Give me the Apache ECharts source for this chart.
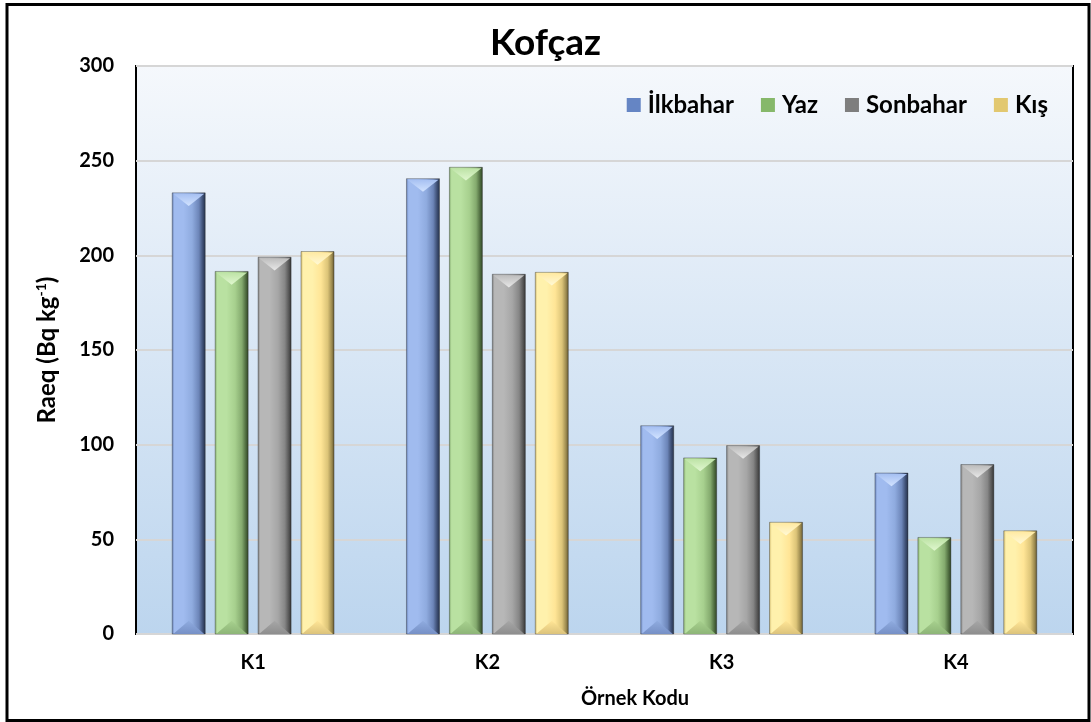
<!DOCTYPE html>
<html>
<head>
<meta charset="utf-8">
<script src="https://cdn.jsdelivr.net/npm/echarts@6/dist/echarts.min.js"></script>
<style>
  html, body { margin: 0; padding: 0; background: #ffffff; }
  #chart { width: 1091px; height: 722px; }
</style>
</head>
<body>
<div id="chart"></div>
<script>
// Raeq values per sampling point (K1..K4) for each season
const categories = ['K1', 'K2', 'K3', 'K4'];
const seasons = ['İlkbahar', 'Yaz', 'Sonbahar', 'Kış'];
const ilkbahar = [233, 240.5, 110, 85];
const yaz = [191.5, 246.5, 93, 51];
const sonbahar = [199, 190, 99.5, 89.5];
const kis = [202, 191, 59, 54.5];
const yTicks = [0, 50, 100, 150, 200, 250, 300];

const seriesValues = [ilkbahar, yaz, sonbahar, kis];

// Shading for the bevelled bars: body gradient stops plus top/bottom facets
const palettes = [
  { legend: '#6585c4', edge: '#5f78ad', light: '#a0bbef', mid: '#8fabdf', shade: '#6c85b8', dark: '#3b4c70', darkest: '#243046', topBase: '#a6c0f2', topLight: '#d2e3ff', bottom: '#7690c6' },
  { legend: '#86b86a', edge: '#7fa56a', light: '#b9e1a1', mid: '#a7d08e', shade: '#84aa6e', dark: '#4d6a3e', darkest: '#2d3f24', topBase: '#bde3a6', topLight: '#e0f7cf', bottom: '#8db577' },
  { legend: '#7e7e7e', edge: '#7a7a7a', light: '#b7b7b7', mid: '#a6a6a6', shade: '#868686', dark: '#555555', darkest: '#303030', topBase: '#bdbdbd', topLight: '#e8e8e8', bottom: '#8e8e8e' },
  { legend: '#e2c870', edge: '#cdb66b', light: '#fff1ac', mid: '#ffe596', shade: '#dcc478', dark: '#9c8a4f', darkest: '#5c512e', topBase: '#ffeaa3', topLight: '#fff9d6', bottom: '#dcc37b' }
];

function bodyGradient(p) {
  return new echarts.graphic.LinearGradient(0, 0, 1, 0, [
    { offset: 0, color: p.edge },
    { offset: 0.08, color: p.light },
    { offset: 0.35, color: p.light },
    { offset: 0.6, color: p.mid },
    { offset: 0.8, color: p.shade },
    { offset: 0.92, color: p.dark },
    { offset: 1, color: p.darkest }
  ]);
}

function renderBevelBar(params, api) {
  const s = params.seriesIndex;
  const p = palettes[s];
  const cat = api.value(0);
  const val = api.value(1);
  const base = api.coord([cat, 0]);
  const top = api.coord([cat, val]);
  const catW = api.size([1, 0])[0];
  const barW = catW * 0.141;
  const gap = barW * 0.30;
  const xc = base[0] + (s - 1.5) * (barW + gap);
  const x0 = xc - barW / 2;
  const x1 = xc + barW / 2;
  const y0 = top[1];
  const y1 = base[1];
  const d = Math.min(barW * 0.4, (y1 - y0) / 2);
  return {
    type: 'group',
    children: [
      {
        type: 'rect',
        shape: { x: x0, y: y0, width: barW, height: y1 - y0 },
        style: { fill: bodyGradient(p), stroke: 'rgba(30,30,30,0.35)', lineWidth: 1 }
      },
      {
        type: 'polygon',
        shape: { points: [[x0 + 1, y0 + 1], [x1 - 1, y0 + 1], [xc, y0 + d]] },
        style: {
          fill: new echarts.graphic.LinearGradient(0, 0, 0, 1, [
            { offset: 0, color: p.topBase },
            { offset: 1, color: p.topLight }
          ])
        }
      },
      {
        type: 'polygon',
        shape: { points: [[x0 + 1, y1], [x1 - 1, y1], [xc, y1 - d]] },
        style: {
          fill: new echarts.graphic.LinearGradient(0, 0, 0, 1, [
            { offset: 0, color: p.mid },
            { offset: 1, color: p.bottom }
          ])
        }
      }
    ]
  };
}

const chart = echarts.init(document.getElementById('chart'), null, { renderer: 'canvas' });

const fontFamily = 'Lato, "Open Sans", sans-serif';

const option = {
  backgroundColor: '#ffffff',
  animation: false,
  title: {
    text: 'Kofçaz',
    left: 'center',
    top: 20,
    textStyle: { fontFamily, fontWeight: 'bold', fontSize: 37, color: '#000' }
  },
  legend: {
    data: seasons,
    right: 38,
    top: 88,
    icon: 'rect',
    itemWidth: 14,
    itemHeight: 14,
    itemGap: 27,
    textStyle: { fontFamily, fontWeight: 'bold', fontSize: 24, color: '#000', padding: [0, 0, 0, 2] }
  },
  grid: {
    left: 136,
    right: 18,
    top: 66,
    bottom: 88,
    show: true,
    borderColor: '#000',
    borderWidth: 2,
    backgroundColor: new echarts.graphic.LinearGradient(0, 0, 0, 1, [
      { offset: 0, color: '#f5f8fc' },
      { offset: 1, color: '#bcd5ee' }
    ])
  },
  xAxis: {
    type: 'category',
    data: categories,
    axisLine: { show: false },
    axisTick: { show: false },
    axisLabel: { fontFamily, fontWeight: 'bold', fontSize: 20, color: '#000', margin: 19 }
  },
  yAxis: {
    type: 'value',
    min: yTicks[0],
    max: yTicks[yTicks.length - 1],
    interval: yTicks[1] - yTicks[0],
    name: 'Raeq (Bq kg{sup|-1})',
    nameLocation: 'middle',
    nameGap: 76,
    nameTextStyle: {
      fontFamily, fontWeight: 'bold', fontSize: 24, color: '#000',
      rich: {
        sup: { fontFamily, fontWeight: 'bold', fontSize: 14, color: '#000', verticalAlign: 'top', padding: [0, 0, 12, 0] }
      }
    },
    axisLine: { show: false },
    axisTick: { show: false },
    axisLabel: { fontFamily, fontWeight: 'bold', fontSize: 20, color: '#000', margin: 22 },
    splitLine: { show: true, lineStyle: { color: '#d6d6d6', width: 2 } }
  },
  graphic: [
    {
      type: 'text',
      left: 581,
      top: 689,
      style: { text: 'Örnek Kodu', font: 'bold 20px Lato, "Open Sans", sans-serif', fill: '#000' }
    },
    {
      type: 'rect',
      shape: { x: 7, y: 4.5, width: 1082, height: 716 },
      style: { fill: 'none', stroke: '#000', lineWidth: 3 },
      z: 100
    }
  ],
  series: seasons.map((name, s) => ({
    name,
    type: 'custom',
    renderItem: renderBevelBar,
    itemStyle: { color: palettes[s].legend },
    encode: { x: 0, y: 1 },
    data: seriesValues[s].map((v, i) => [i, v]),
    z: 3
  }))
};

chart.setOption(option);
</script>
</body>
</html>
